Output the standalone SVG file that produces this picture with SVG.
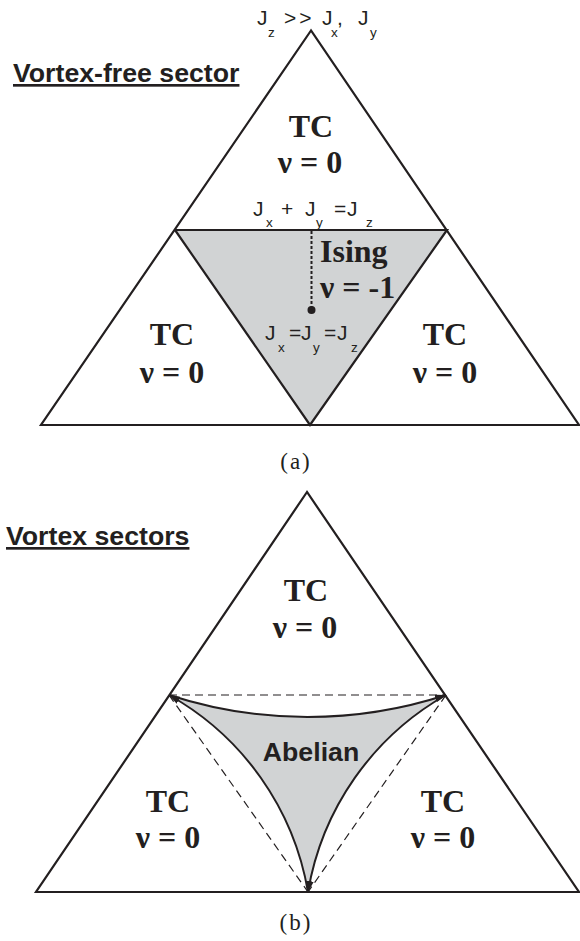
<svg xmlns="http://www.w3.org/2000/svg" width="580" height="941" viewBox="0 0 580 941">
<style>
.tri{fill:none;stroke:#231f20;stroke-width:2.2;stroke-linejoin:miter}
.gray{fill:#d1d3d4}
.tc{font-family:"Liberation Serif",serif;font-weight:bold;font-size:32px;fill:#231f20;text-anchor:middle}
.title{font-family:"Liberation Sans",sans-serif;font-weight:bold;font-size:26.7px;fill:#231f20;text-decoration:underline}
.j{font-family:"Liberation Sans",sans-serif;font-size:21px;fill:#231f20}
.sub{font-size:13.5px}
.cap{font-family:"Liberation Serif",serif;font-size:23px;fill:#231f20;text-anchor:middle;letter-spacing:2px}
.dash{fill:none;stroke:#231f20;stroke-width:1.2;stroke-dasharray:8 5}
.curve{fill:none;stroke:#231f20;stroke-width:2}
</style>
<defs>
<marker id="ah" markerUnits="userSpaceOnUse" markerWidth="11" markerHeight="8" refX="11" refY="4" orient="auto">
<path d="M0,0 L11,4 L0,8 z" fill="#231f20"/>
</marker>
</defs>
<rect width="580" height="941" fill="#ffffff"/>

<g id="panel-a">
<g id="a-ising-region">
<polygon class="gray" points="175,230 447,230 310,425"/>
</g>
<g id="a-outline">
<polygon class="tri" points="311,30.5 41,425 579,425"/>
<polyline class="tri" points="175,230 447,230 310,425 175,230"/>
</g>
<g id="a-title"><text class="title" x="13" y="82">Vortex-free sector</text></g>
<g id="a-top-label">
<text class="j" font-size="20"><tspan x="257" y="25">J</tspan><tspan class="sub" font-size="12.5" x="268" y="37">z</tspan><tspan x="284" y="25" letter-spacing="3">&gt;&gt;</tspan><tspan x="322" y="25">J</tspan><tspan class="sub" font-size="12.5" x="331" y="37">x</tspan><tspan x="337" y="25">,</tspan><tspan x="358" y="25">J</tspan><tspan class="sub" font-size="12.5" x="370" y="37">y</tspan></text>
</g>
<g id="a-tc-top">
<text class="tc" x="311" y="137">TC</text>
<text class="tc" x="310" y="173">ν = 0</text>
</g>
<g id="a-boundary-label">
<text class="j"><tspan x="253" y="216">J</tspan><tspan class="sub" x="266" y="227">x</tspan><tspan x="281" y="216">+</tspan><tspan x="305" y="216">J</tspan><tspan class="sub" x="316" y="227">y</tspan><tspan x="334" y="216">=</tspan><tspan x="347" y="216">J</tspan><tspan class="sub" x="366" y="227">z</tspan></text>
</g>
<g id="a-ising">
<text class="tc" x="320" y="262" style="text-anchor:start">Ising</text>
<text class="tc" x="320" y="298" style="text-anchor:start">ν = -1</text>
</g>
<g id="a-symmetric-point">
<line x1="311.5" y1="231" x2="311.5" y2="310" stroke="#231f20" stroke-width="2" stroke-dasharray="3 2"/>
<circle cx="311.5" cy="310" r="4" fill="#231f20"/>
<text class="j"><tspan x="265" y="340">J</tspan><tspan class="sub" x="278" y="352">x</tspan><tspan x="289" y="340">=</tspan><tspan x="301" y="340">J</tspan><tspan class="sub" x="313" y="352">y</tspan><tspan x="324" y="340">=</tspan><tspan x="337" y="340">J</tspan><tspan class="sub" x="351" y="352">z</tspan></text>
</g>
<g id="a-tc-left">
<text class="tc" x="172" y="345">TC</text>
<text class="tc" x="172" y="383">ν = 0</text>
</g>
<g id="a-tc-right">
<text class="tc" x="445" y="345">TC</text>
<text class="tc" x="445" y="383">ν = 0</text>
</g>
<g id="a-caption"><text class="cap" x="296" y="469">(a)</text></g>
</g>

<g id="panel-b">
<g id="b-abelian-region">
<path class="gray" d="M169,695 A447,447 0 0 0 446,695 A280,280 0 0 0 308,892 A280,280 0 0 0 169,695 Z"/>
</g>
<g id="b-outline">
<polygon class="tri" points="307,492 36,892 579,892"/>
</g>
<g id="connectors">
<line class="dash" x1="169" y1="695" x2="446" y2="695"/>
<line class="dash" x1="169" y1="695" x2="308" y2="892"/>
<line class="dash" x1="446" y1="695" x2="308" y2="892"/>
<path class="curve" d="M169,695 A447,447 0 0 0 446,695" marker-end="url(#ah)"/>
<path class="curve" d="M446,695 A280,280 0 0 0 308,892" marker-end="url(#ah)"/>
<path class="curve" d="M308,892 A280,280 0 0 0 169,695" marker-end="url(#ah)"/>
</g>
<g id="b-title"><text class="title" x="6" y="545">Vortex sectors</text></g>
<g id="b-tc-top">
<text class="tc" x="306" y="601">TC</text>
<text class="tc" x="305" y="638">ν = 0</text>
</g>
<g id="b-abelian">
<text class="title" x="311" y="761" style="text-decoration:none;text-anchor:middle">Abelian</text>
</g>
<g id="b-tc-left">
<text class="tc" x="168" y="812">TC</text>
<text class="tc" x="168" y="848">ν = 0</text>
</g>
<g id="b-tc-right">
<text class="tc" x="443" y="812">TC</text>
<text class="tc" x="443" y="848">ν = 0</text>
</g>
<g id="b-caption"><text class="cap" x="296" y="930">(b)</text></g>
</g>
</svg>
